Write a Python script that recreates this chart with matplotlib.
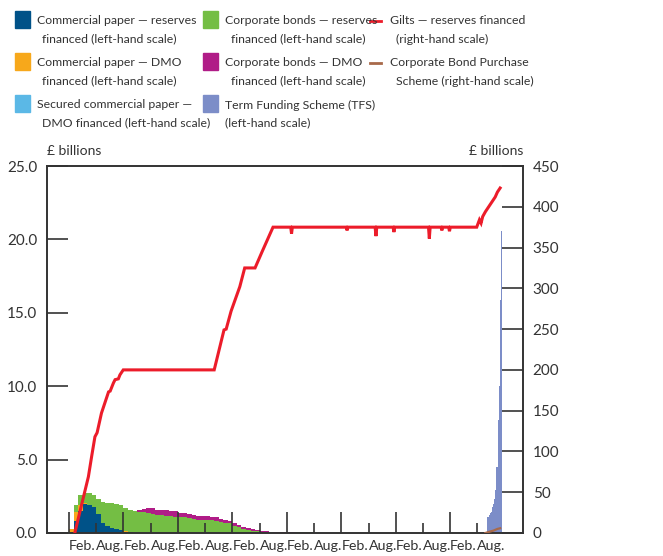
import numpy as np
import matplotlib
matplotlib.use("Agg")
import matplotlib.pyplot as plt
from matplotlib.patches import Rectangle
from matplotlib.lines import Line2D

plt.rcParams['font.family'] = ['Lato', 'DejaVu Sans']

# monthly holdings, left-hand scale (£ billions)
months = ['2009-02', '2009-03', '2009-04', '2009-05', '2009-06', '2009-07', '2009-08',
          '2009-09', '2009-10', '2009-11', '2009-12', '2010-01', '2010-02', '2010-03',
          '2010-04', '2010-05', '2010-06', '2010-07', '2010-08', '2010-09', '2010-10',
          '2010-11', '2010-12', '2011-01', '2011-02', '2011-03', '2011-04', '2011-05',
          '2011-06', '2011-07', '2011-08', '2011-09', '2011-10', '2011-11', '2011-12',
          '2012-01', '2012-02', '2012-03', '2012-04', '2012-05', '2012-06', '2012-07',
          '2012-08', '2012-09', '2012-10', '2012-11', '2012-12', '2013-01', '2013-02',
          '2013-03', '2013-04', '2013-05', '2013-06', '2013-07']
cp_reserves = [0, 0.8, 1.5, 1.95, 1.9, 1.75, 1.3, 0.7, 0.5, 0.35, 0.25, 0.18, 0.1, 0.05,
               0.03, 0, 0, 0, 0, 0, 0, 0, 0, 0, 0, 0, 0, 0, 0, 0, 0, 0, 0, 0, 0,
               0, 0, 0, 0, 0, 0, 0, 0, 0, 0, 0, 0, 0, 0, 0, 0, 0, 0, 0]
cp_dmo = [0.3, 0.65, 0.4, 0.1, 0, 0, 0, 0, 0, 0, 0, 0, 0.02, 0.02,
          0, 0, 0, 0, 0, 0, 0, 0, 0, 0, 0, 0, 0, 0, 0, 0, 0, 0, 0, 0, 0,
          0, 0, 0, 0, 0, 0, 0, 0, 0, 0, 0, 0, 0, 0, 0, 0, 0, 0, 0]
scp_dmo = [0] * 54
cb_reserves = [0, 0.45, 0.7, 0.7, 0.8, 0.85, 1.0, 1.4, 1.55, 1.7, 1.7, 1.72, 1.6, 1.47,
               1.47, 1.45, 1.42, 1.38, 1.32, 1.22, 1.2, 1.18, 1.13, 1.11, 1.07, 1.07, 1.0, 0.93,
               0.9, 0.89, 0.89, 0.86, 0.82, 0.75, 0.7, 0.66, 0.5, 0.38, 0.24, 0.2, 0.16, 0.13,
               0.1, 0.09, 0.04, 0.03, 0.03, 0.03, 0.03, 0.03, 0.07, 0.07, 0.07, 0.07]
cb_dmo = [0, 0, 0, 0, 0, 0, 0, 0, 0, 0, 0, 0, 0, 0,
          0, 0.1, 0.2, 0.3, 0.35, 0.38, 0.37, 0.38, 0.4, 0.4, 0.3, 0.27, 0.28, 0.3,
          0.27, 0.27, 0.27, 0.25, 0.25, 0.2, 0.17, 0.18, 0.15, 0.14, 0.14, 0.11, 0.1, 0.07,
          0.06, 0.05, 0.04, 0.04, 0.04, 0.04, 0.04, 0.03, 0, 0, 0, 0]

# Term Funding Scheme, weekly, left-hand scale
tfs_weeks = ['2016-10-05', '2016-10-12', '2016-10-19', '2016-10-26', '2016-11-02',
             '2016-11-09', '2016-11-16', '2016-11-23', '2016-11-30', '2016-12-07',
             '2016-12-14', '2016-12-21', '2016-12-28', '2017-01-04']
tfs = [1.1, 1.1, 1.2, 1.35, 1.4, 1.8, 2.0, 2.3, 2.9, 4.5, 7.7, 10.0, 15.9, 20.6]

# gilts, right-hand scale (decimal year, £ billions)
gilts_t = [2009.19, 2009.32, 2009.44, 2009.50, 2009.56, 2009.60, 2009.68, 2009.78, 2009.81,
           2009.84, 2009.90, 2009.93, 2009.99, 2010.02, 2010.08, 2011.75, 2011.93, 2011.97,
           2012.06, 2012.22, 2012.31, 2012.50, 2012.63, 2012.83,
           2013.155, 2013.17, 2013.185, 2014.175, 2014.19, 2014.205,
           2014.705, 2014.72, 2014.735, 2015.035, 2015.05, 2015.065,
           2015.685, 2015.70, 2015.715, 2015.915, 2015.93, 2015.945,
           2016.055, 2016.07, 2016.085, 2016.57, 2016.62, 2016.65, 2016.68,
           2016.73, 2016.79, 2016.85, 2016.91, 2016.95, 2017.0]
gilts = [0, 36, 69, 94, 118, 123, 147, 167, 173,
         174, 184, 188, 189, 194, 200, 200, 249, 250,
         272, 302, 325, 325, 345, 375,
         375, 367, 375, 375, 371, 375,
         375, 364, 375, 375, 369, 375,
         375, 361, 375, 375, 371, 375,
         375, 370, 375, 375, 384, 380, 388,
         394, 400, 406, 412, 418, 423]

# Corporate Bond Purchase Scheme, right-hand scale
cbps_t = [2016.73, 2016.80, 2016.88, 2016.95, 2017.0]
cbps = [0, 1.5, 3.0, 5.0, 5.8]

years = list(range(2009, 2017))

C_CPR = '#005288'
C_CPD = '#F7A81B'
C_SCP = '#5BB8E6'
C_CBR = '#74BE44'
C_CBD = '#B01C87'
C_TFS = '#7C8DC8'
C_GILT = '#EC1C2A'
C_CBPS = '#A8694A'
INK = '#333333'
FS_LEG = 8.8


def month_to_year(m):
    y, mo = m.split('-')
    return int(y) + (int(mo) - 1) / 12


def date_to_year(d):
    y, mo, dd = d.split('-')
    return int(y) + (int(mo) - 1) / 12 + (int(dd) - 1) / 365


W, H = 663, 556
fig = plt.figure(figsize=(W / 100, H / 100), dpi=100)
ax = fig.add_axes([47 / W, 1 - 533 / H, (523 - 47) / W, (533 - 166) / H])
ax2 = ax.twinx()

x = np.array([month_to_year(m) for m in months])
bottom = np.zeros(len(x))
for vals, col in [(cp_reserves, C_CPR), (cp_dmo, C_CPD), (scp_dmo, C_SCP),
                  (cb_reserves, C_CBR), (cb_dmo, C_CBD)]:
    v = np.array(vals)
    ax.bar(x, v, width=1 / 12, bottom=bottom, align='edge', color=col, linewidth=0)
    bottom += v

xt = np.array([date_to_year(d) for d in tfs_weeks])
ax.bar(xt, tfs, width=7.5 / 365, align='edge', color=C_TFS, linewidth=0)

ax2.plot(gilts_t, gilts, color=C_GILT, lw=2.2, solid_joinstyle='miter', zorder=3)
ax2.plot(cbps_t, cbps, color=C_CBPS, lw=1.6, zorder=3)

ax.set_xlim(2008.68, 2017.42)
ax.set_ylim(0, 25)
ax2.set_ylim(0, 450)

ax.set_xticks([y + 1 / 12 for y in years])
ax.set_xticklabels(['Feb.'] * len(years))
ax.set_xticks([y + 7 / 12 for y in years], minor=True)
ax.set_xticklabels(['Aug.'] * len(years), minor=True)
for lab in ax.get_xticklabels(which='both'):
    lab.set_ha('left')

ax.set_yticks(np.arange(0, 26, 5))
ax.set_yticklabels([f'{v:.1f}' for v in np.arange(0, 26, 5)])
ax2.set_yticks(np.arange(0, 451, 50))

ax.tick_params(axis='x', which='major', direction='in', length=15, width=1.2,
               color=INK, labelsize=10.3, labelcolor=INK, pad=5)
ax.tick_params(axis='x', which='minor', direction='in', length=7, width=1.2,
               color=INK, labelsize=10.3, labelcolor=INK, pad=5)
ax.tick_params(axis='y', direction='in', length=15, width=1.2, color=INK,
               labelsize=11, labelcolor=INK, pad=7)
ax2.tick_params(axis='y', direction='in', length=15, width=1.2, color=INK,
                labelsize=11, labelcolor=INK, pad=7)
for a in (ax, ax2):
    for s in a.spines.values():
        s.set_color(INK)
        s.set_linewidth(1.2)

fig.text(47 / W, 1 - 151 / H, '£ billions', ha='left', va='center', fontsize=10, color=INK)
fig.text(523 / W, 1 - 151 / H, '£ billions', ha='right', va='center', fontsize=10, color=INK)


# legend, drawn in figure pixels
def fx(px):
    return px / W


def fy(py):
    return 1 - py / H


def legend_patch(x0, y0, col, line1, line2, indent):
    fig.add_artist(Rectangle((fx(x0), fy(y0 + 17)), 15 / W, 17 / H, color=col,
                             transform=fig.transFigure))
    fig.text(fx(x0 + 22), fy(y0 + 10), line1, ha='left', va='center', fontsize=FS_LEG,
             color=INK)
    fig.text(fx(x0 + 22 + indent), fy(y0 + 28), line2, ha='left', va='center',
             fontsize=FS_LEG, color=INK)


def legend_line(x0, y0, col, line1, line2):
    fig.add_artist(Line2D([fx(x0), fx(x0 + 11)], [fy(y0 + 10), fy(y0 + 10)], color=col,
                          lw=2, transform=fig.transFigure))
    fig.text(fx(x0 + 20), fy(y0 + 10), line1, ha='left', va='center', fontsize=FS_LEG,
             color=INK)
    fig.text(fx(x0 + 26), fy(y0 + 28), line2, ha='left', va='center', fontsize=FS_LEG,
             color=INK)


legend_patch(15, 11, C_CPR, 'Commercial paper \u2014 reserves', 'financed (left-hand scale)', 5)
legend_patch(15, 53, C_CPD, 'Commercial paper \u2014 DMO', 'financed (left-hand scale)', 5)
legend_patch(15, 95, C_SCP, 'Secured commercial paper \u2014', 'DMO financed (left-hand scale)', 5)
legend_patch(203, 11, C_CBR, 'Corporate bonds \u2014 reserves', 'financed (left-hand scale)', 6)
legend_patch(203, 53, C_CBD, 'Corporate bonds \u2014 DMO', 'financed (left-hand scale)', 6)
legend_patch(203, 95, C_TFS, 'Term Funding Scheme (TFS)', '(left-hand scale)', 0)
legend_line(370, 11, C_GILT, 'Gilts \u2014 reserves financed', '(right-hand scale)')
legend_line(370, 53, C_CBPS, 'Corporate Bond Purchase', 'Scheme (right-hand scale)')

fig.savefig('out.png', dpi=100)
